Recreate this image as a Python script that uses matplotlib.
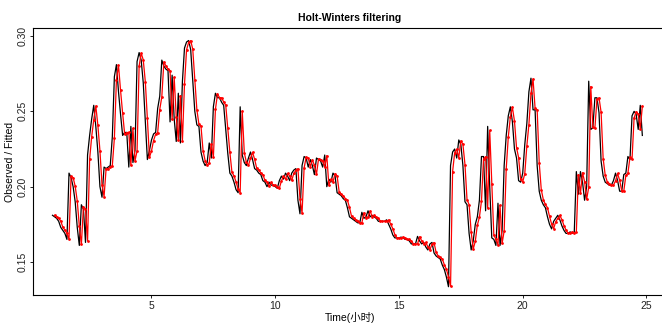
import numpy as np
import matplotlib
matplotlib.use("Agg")
import matplotlib.pyplot as plt

plt.rcParams['font.family'] = ['Liberation Sans', 'Noto Sans CJK SC', 'DejaVu Sans']

observed = [
    0.181, 0.180, 0.179, 0.177, 0.173, 0.171, 0.169, 0.165, 0.209, 0.206,
    0.200, 0.190, 0.173, 0.161, 0.188, 0.185, 0.163, 0.221, 0.234, 0.245,
    0.254, 0.240, 0.223, 0.200, 0.193, 0.213, 0.212, 0.213, 0.214, 0.233,
    0.273, 0.281, 0.263, 0.248, 0.234, 0.236, 0.236, 0.213, 0.240, 0.216,
    0.224, 0.283, 0.289, 0.284, 0.269, 0.244, 0.218, 0.224, 0.231, 0.235,
    0.236, 0.252, 0.260, 0.284, 0.280, 0.278, 0.277, 0.243, 0.274, 0.245,
    0.230, 0.262, 0.229, 0.270, 0.292, 0.296, 0.297, 0.291, 0.270, 0.250,
    0.241, 0.240, 0.223, 0.217, 0.214, 0.216, 0.229, 0.219, 0.253, 0.262,
    0.259, 0.259, 0.256, 0.254, 0.238, 0.222, 0.209, 0.207, 0.203, 0.198,
    0.196, 0.253, 0.221, 0.216, 0.214, 0.219, 0.223, 0.218, 0.212, 0.211,
    0.209, 0.208, 0.204, 0.203, 0.200, 0.203, 0.201, 0.201, 0.200, 0.199,
    0.204, 0.207, 0.205, 0.209, 0.207, 0.204, 0.209, 0.211, 0.212, 0.191,
    0.182, 0.214, 0.220, 0.219, 0.213, 0.218, 0.214, 0.208, 0.219, 0.218,
    0.217, 0.213, 0.221, 0.200, 0.205, 0.203, 0.209, 0.207, 0.196, 0.195,
    0.194, 0.192, 0.191, 0.186, 0.180, 0.179, 0.178, 0.177, 0.176, 0.176,
    0.183, 0.179, 0.180, 0.184, 0.180, 0.181, 0.180, 0.179, 0.177, 0.177,
    0.177, 0.177, 0.178, 0.175, 0.172, 0.168, 0.166, 0.166, 0.166, 0.1665,
    0.166, 0.165, 0.165, 0.164, 0.162, 0.162, 0.162, 0.167, 0.164, 0.162,
    0.163, 0.160, 0.158, 0.162, 0.163, 0.156, 0.154, 0.153, 0.152, 0.148,
    0.145, 0.140, 0.1336, 0.214, 0.223, 0.225, 0.219, 0.231, 0.228, 0.214,
    0.190, 0.188, 0.169, 0.158, 0.164, 0.175, 0.180, 0.191, 0.220, 0.220,
    0.184, 0.240, 0.200, 0.166, 0.165, 0.161, 0.189, 0.161, 0.171, 0.214,
    0.234, 0.247, 0.253, 0.243, 0.225, 0.219, 0.204, 0.203, 0.209, 0.228,
    0.242, 0.263, 0.272, 0.251, 0.251, 0.214, 0.197, 0.191, 0.188, 0.186,
    0.180, 0.175, 0.172, 0.177, 0.179, 0.181, 0.178, 0.174, 0.171, 0.169,
    0.169, 0.170, 0.169, 0.170, 0.210, 0.195, 0.210, 0.203, 0.191, 0.200,
    0.270, 0.238, 0.239, 0.259, 0.259, 0.249, 0.217, 0.207, 0.203, 0.202,
    0.201, 0.201, 0.204, 0.209, 0.204, 0.197, 0.197, 0.208, 0.209, 0.220,
    0.218, 0.247, 0.250, 0.248, 0.238, 0.254, 0.234,
]
start_time = 1.0
frequency = 12
alpha = 0.95  # smoothing parameter of the exponential smoothing filter

x_ticks = [5, 10, 15, 20, 25]
y_ticks = [0.15, 0.20, 0.25, 0.30]
y_tick_labels = ["0.15", "0.20", "0.25", "0.30"]

obs = np.asarray(observed)
t = start_time + np.arange(len(obs)) / frequency

# Holt-Winters (exponential smoothing only) one-step-ahead fitted values
level = obs[0]
fitted = []
for v in obs[1:]:
    fitted.append(level)
    level = alpha * v + (1 - alpha) * level
fitted = np.asarray(fitted)

fig = plt.figure(figsize=(6.62, 3.25), dpi=100)
W, H = 662, 325
top_px, bot_px = 28, 295
ax = fig.add_axes([33 / W, (H - bot_px) / H, 634 / W, (bot_px - top_px) / H])

ax.plot(t, obs, color="black", lw=0.9, zorder=2)
ax.plot(t[1:], fitted, color="red", lw=0.9, marker="o", markersize=2.0,
        markeredgewidth=0, zorder=3)

ax.set_xlim(0.212, 25.83)
ax.set_ylim(0.30 - (bot_px - 36) / 1506.7, 0.30 + (36 - top_px) / 1506.7)
ax.set_xticks(x_ticks)
ax.set_yticks(y_ticks)
ax.set_yticklabels(y_tick_labels, rotation=90, va="center")
ax.tick_params(axis="both", direction="out", length=2.5, width=0.7,
               labelsize=7.5, pad=1.5, colors="#222222")
for s in ax.spines.values():
    s.set_linewidth(0.8)

ax.set_title("Holt-Winters filtering", fontsize=7.5, fontweight="bold", pad=5)
ax.set_xlabel("Time(小时)", fontsize=7.5, labelpad=1,
              family=['Liberation Sans', 'Noto Sans CJK SC'])
ax.set_ylabel("Observed / Fitted", fontsize=7.5, labelpad=1.5)

fig.savefig("out.png", dpi=100)
